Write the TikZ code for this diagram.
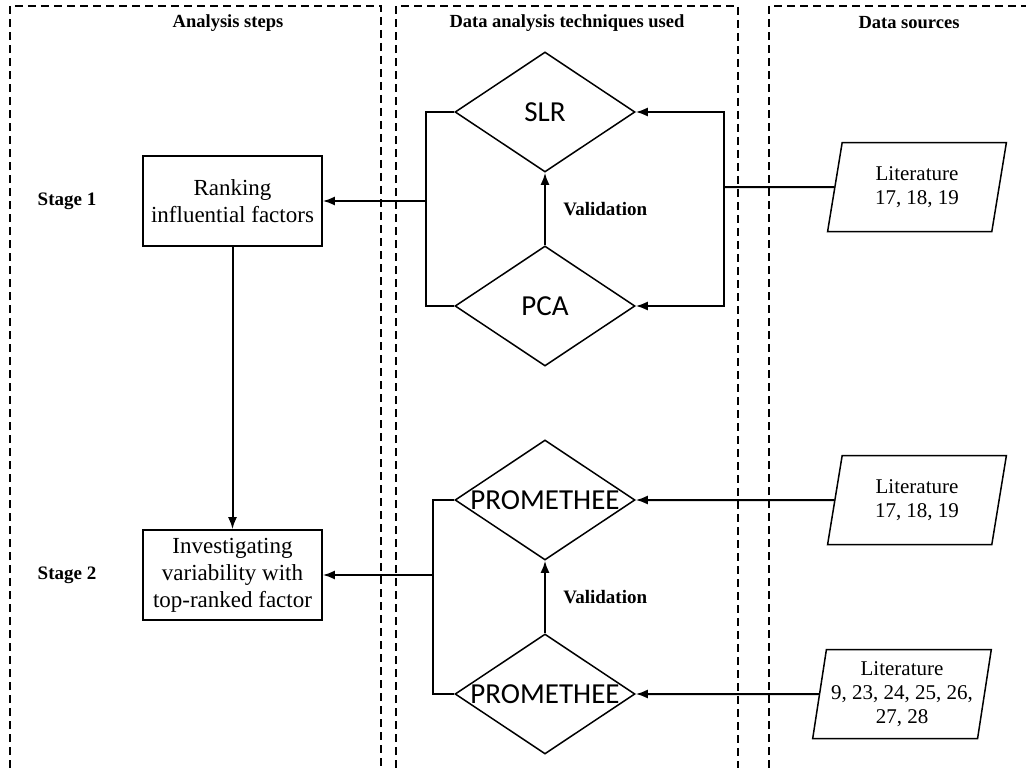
\documentclass[tikz,border=0pt]{standalone}
\usepackage{fontspec}
\setmainfont{Liberation Serif}
\newfontfamily\calibri{Carlito}
\usetikzlibrary{shapes.geometric,arrows.meta}

\begin{document}
\begin{tikzpicture}[x=1pt,y=-1pt,
    lane/.style={dash pattern=on 8pt off 5pt,line width=1.3pt},
    wire/.style={line width=2pt},
    feed/.style={line width=2pt,-{Latex[length=12pt,width=9pt]}},
    stepbox/.style={draw,line width=1.6pt,minimum width=179pt,minimum height=90pt,
      inner sep=0pt,align=center,font=\fontsize{23}{27}\selectfont},
    method/.style={draw,diamond,line width=1.5pt,minimum width=180pt,minimum height=120pt,
      inner sep=0pt,label={center:\calibri\fontsize{29}{32}\selectfont #1}},
    source/.style={draw,trapezium,trapezium left angle=79,trapezium right angle=101,
      trapezium stretches=true,minimum width=179pt,minimum height=89pt,inner sep=1pt,
      line width=1.5pt,align=center,font=\fontsize{21}{24}\selectfont},
    head/.style={font=\bfseries\fontsize{18.5}{21}\selectfont},
    stage/.style={font=\bfseries\fontsize{19}{22}\selectfont}]
    \useasboundingbox (0,0) rectangle (1026,768);

    % the three lanes
    \draw[lane] (10,768) -- (10,6) -- (381,6) -- (381,768);
    \draw[lane] (396,768) -- (396,6) -- (738,6) -- (738,768);
    \draw[lane] (769,768) -- (769,6) -- (1026,6);
    \node[head] (hsteps) at (228,23) {Analysis steps};
    \node[head] (htech) at (567,23) {Data analysis techniques used};
    \node[head] (hdata) at (909,23) {Data sources};

    % stage 1
    \node[stage] (st1) at (67,201) {Stage 1};
    \node[stepbox] (rank) at (232.5,201) {Ranking\\influential factors};
    \node[method=SLR] (slr) at (545,112) {};
    \node[method=PCA] (pca) at (545,306) {};
    \node[source] (lit1) at (917,187) {Literature\\17, 18, 19};
    \coordinate (lb1) at (426,201);
    \coordinate (rb1) at (724,187);
    \draw[wire] (slr.west) -| (lb1) |- (pca.west);
    \draw[feed] (lb1) -- (rank.east);
    \draw[wire] (lit1.west) -- (rb1);
    \draw[feed] (rb1) |- (slr.east);
    \draw[feed] (rb1) |- (pca.east);
    \draw[feed] (pca.north) -- (slr.south)
      node[midway,right=14pt,stage] (val1) {Validation};

    % stage 2
    \node[stage] (st2) at (67,575) {Stage 2};
    \node[stepbox] (vary) at (232.5,575) {Investigating\\variability with\\top-ranked factor};
    \node[method=PROMETHEE] (prom1) at (545,500) {};
    \node[method=PROMETHEE] (prom2) at (545,694) {};
    \node[source] (lit2) at (917,500) {Literature\\17, 18, 19};
    \node[source] (lit3) at (902,694) {Literature\\9, 23, 24, 25, 26,\\27, 28};
    \coordinate (lb2) at (433,575);
    \draw[wire] (prom1.west) -| (lb2) |- (prom2.west);
    \draw[feed] (lb2) -- (vary.east);
    \draw[feed] (lit2.west) -- (prom1.east);
    \draw[feed] (lit3.west) -- (prom2.east);
    \draw[feed] (prom2.north) -- (prom1.south)
      node[midway,right=14pt,stage] (val2) {Validation};

    \draw[feed] (rank.south) -- (vary.north);
\end{tikzpicture}
\end{document}
